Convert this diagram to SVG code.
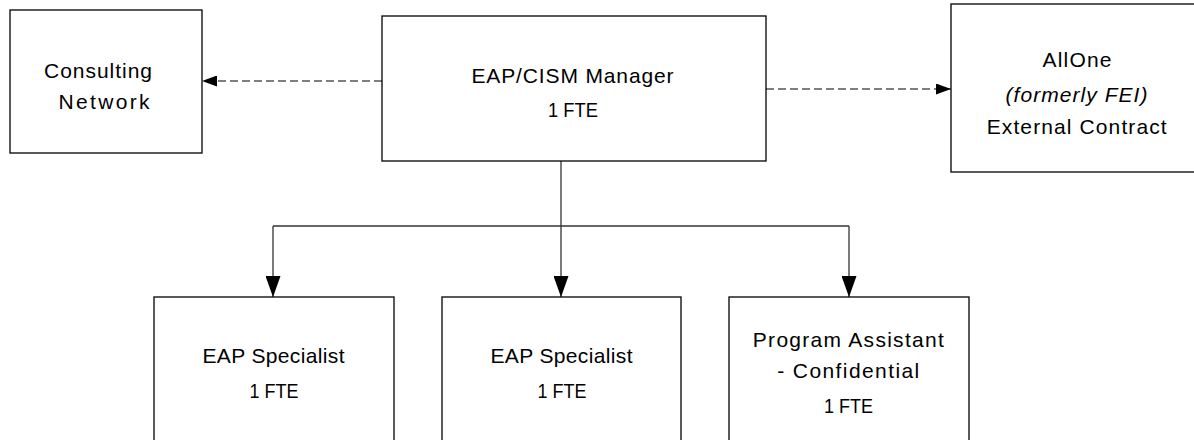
<svg xmlns="http://www.w3.org/2000/svg" width="1194" height="440" viewBox="0 0 1194 440">
<style>
.box{fill:#fff;stroke:#000;stroke-width:1.3}
.t{font-family:"Liberation Sans",Arial,sans-serif;font-size:21px;fill:#000;text-anchor:middle}
.it{font-style:italic}
.dash{fill:none;stroke:#555;stroke-width:1.5;stroke-dasharray:8 4}
.solid{fill:none;stroke:#333;stroke-width:1.3}
</style>
<defs>
<marker id="ah" viewBox="0 0 10 10" refX="10" refY="5" markerWidth="15" markerHeight="11" markerUnits="userSpaceOnUse" orient="auto" preserveAspectRatio="none"><path d="M0,0 L10,5 L0,10 Z" fill="#000"/></marker>
<marker id="ahd" viewBox="0 0 10 10" refX="10" refY="5" markerWidth="21" markerHeight="15" markerUnits="userSpaceOnUse" orient="auto" preserveAspectRatio="none"><path d="M0,0 L10,5 L0,10 Z" fill="#000"/></marker>
</defs>
<g id="connectors">
<path class="dash" d="M382,81 H202" marker-end="url(#ah)"/>
<path class="dash" d="M766,89 H951" marker-end="url(#ah)"/>
<path class="solid" d="M561,161 V297" marker-end="url(#ahd)"/>
<path class="solid" d="M273,226 H849"/>
<path class="solid" d="M273,226 V297" marker-end="url(#ahd)"/>
<path class="solid" d="M849,226 V297" marker-end="url(#ahd)"/>
</g>
<g id="consulting">
<rect class="box" x="10" y="10" width="192" height="143"/>
<text class="t" x="98" y="78" textLength="108">Consulting</text>
<text class="t" x="104" y="109" textLength="91">Network</text>
</g>
<g id="manager">
<rect class="box" x="382" y="16" width="384" height="145"/>
<text class="t" x="572.5" y="83" textLength="202">EAP/CISM Manager</text>
<text class="t" x="573" y="117" textLength="50" lengthAdjust="spacingAndGlyphs">1 FTE</text>
</g>
<g id="allone">
<rect class="box" x="951" y="4" width="252" height="168"/>
<text class="t" x="1077" y="67" textLength="69">AllOne</text>
<text class="t it" x="1076.5" y="102" textLength="142">(formerly FEI)</text>
<text class="t" x="1076.7" y="134" textLength="180">External Contract</text>
</g>
<g id="specialist1">
<rect class="box" x="154" y="297" width="240" height="160"/>
<text class="t" x="273.5" y="363" textLength="142">EAP Specialist</text>
<text class="t" x="274" y="398" textLength="49" lengthAdjust="spacingAndGlyphs">1 FTE</text>
</g>
<g id="specialist2">
<rect class="box" x="442" y="297" width="239" height="160"/>
<text class="t" x="561.5" y="363" textLength="142">EAP Specialist</text>
<text class="t" x="562" y="398" textLength="49" lengthAdjust="spacingAndGlyphs">1 FTE</text>
</g>
<g id="assistant">
<rect class="box" x="729" y="297" width="240" height="160"/>
<text class="t" x="848.3" y="347" textLength="191">Program Assistant</text>
<text class="t" x="848.2" y="378" textLength="142">- Confidential</text>
<text class="t" x="848.5" y="413" textLength="49" lengthAdjust="spacingAndGlyphs">1 FTE</text>
</g>
</svg>
